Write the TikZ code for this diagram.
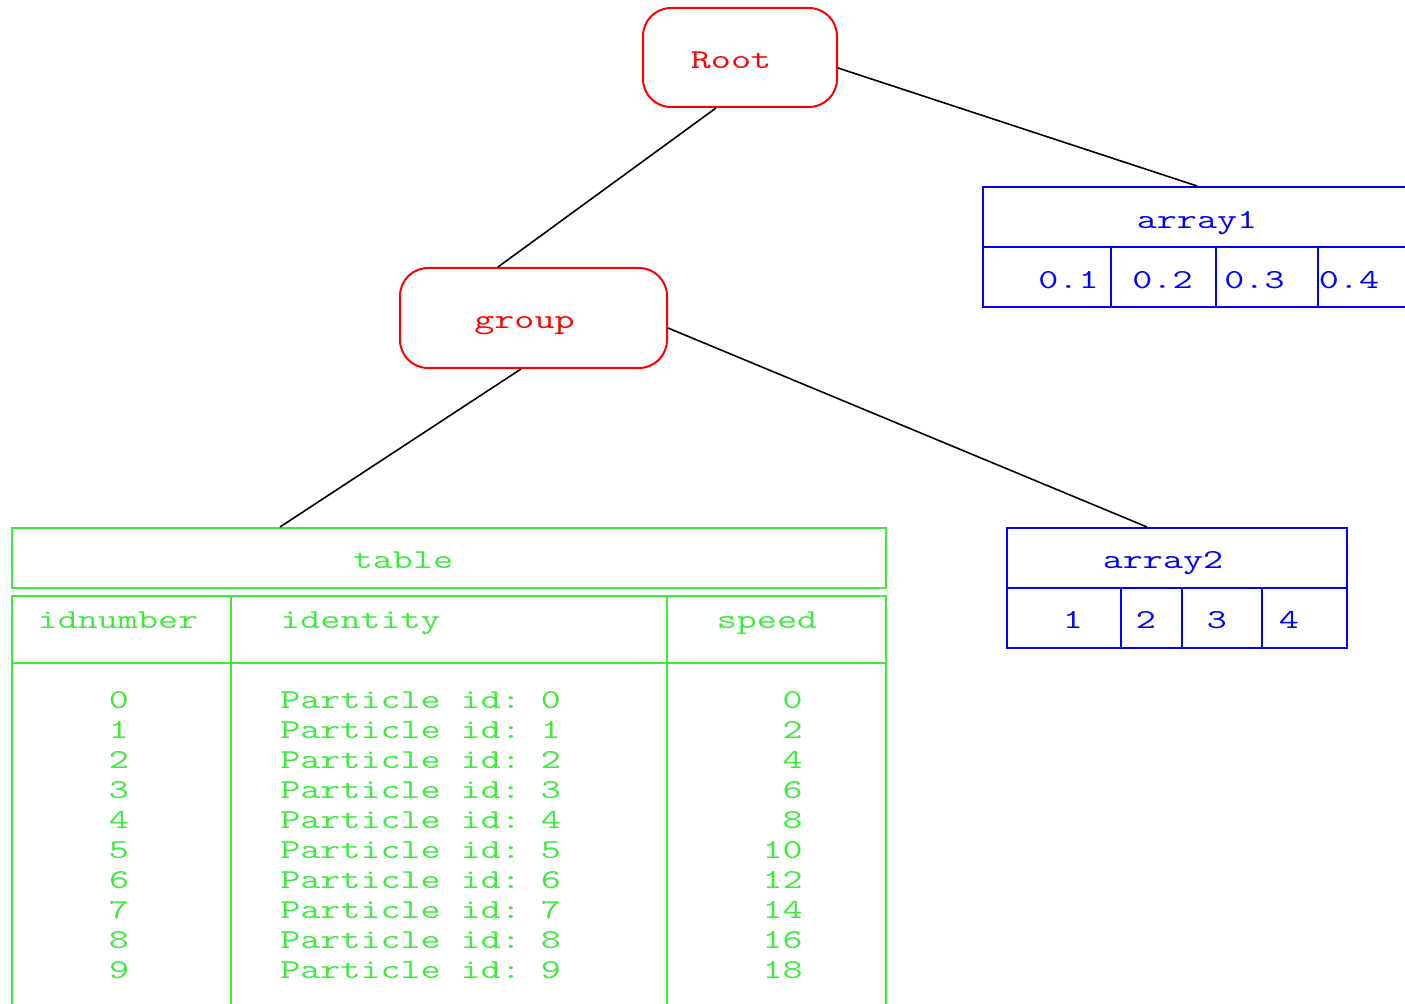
\documentclass[tikz,border=0pt]{standalone}
\usepackage{fontspec}
\setmonofont[FakeStretch=1.42]{Latin Modern Mono}
\definecolor{tabgreen}{RGB}{60,235,60}

\begin{document}
\begin{tikzpicture}[
  x=0.5pt, y=-0.5pt,
  box/.style={draw, line width=1pt, inner sep=0pt},
  grp/.style={box, red, rounded corners=14pt},
  arr/.style={box, blue, minimum height=30pt},
  tab/.style={box, tabgreen},
  lbl/.style={font=\ttfamily\fontsize{13.7}{15}\selectfont, inner sep=0pt, anchor=base},
  link/.style={line width=0.8pt}]
\useasboundingbox (0,0) rectangle (1405,1004);

% groups
\node[grp, minimum width=97pt, minimum height=49.5pt] (root) at (740,57.5) {};
\node[lbl, red] (rootname) at (731,69) {Root};
\node[grp, minimum width=133.5pt, minimum height=50pt] (group) at (533.5,318) {};
\node[lbl, red] (groupname) at (524.5,329) {group};

% array1
\node[arr, minimum width=214pt] (arrayone) at (1197,217) {};
\node[lbl, blue] (arrayonename) at (1197,229) {array1};
\foreach \xl/\xr/\xt/\val [count=\i] in {983/1111/1068.5/0.1, 1111/1216/1162.5/0.2, 1216/1318/1254.5/0.3, 1318/1411/1349/0.4}
  \node[arr, minimum width=0.5pt*(\xr-\xl)] (arrayone\i) at ({(\xl+\xr)/2},277) {}
    node[lbl, blue] (arrayoneval\i) at (\xt,289) {\val};

% array2
\node[arr, minimum width=170pt] (arraytwo) at (1177,558) {};
\node[lbl, blue] (arraytwoname) at (1163,569) {array2};
\foreach \xl/\xr/\xt/\val [count=\i] in {1007/1121/1073/1, 1121/1182/1146/2, 1182/1262/1217/3, 1262/1347/1289/4}
  \node[arr, minimum width=0.5pt*(\xr-\xl)] (arraytwo\i) at ({(\xl+\xr)/2},618) {}
    node[lbl, blue] (arraytwoval\i) at (\xt,629) {\val};

% table
\node[tab, minimum width=437pt, minimum height=30pt] (tabletitle) at (449,558) {};
\node[lbl, tabgreen] (tablename) at (403,569) {table};
\foreach \xl/\xr [count=\i] in {12/231, 231/667, 667/886} {
  \node[tab, minimum width=0.5pt*(\xr-\xl), minimum height=33.5pt] (head\i) at ({(\xl+\xr)/2},629.5) {};
  \node[tab, minimum width=0.5pt*(\xr-\xl), minimum height=173.5pt] (body\i) at ({(\xl+\xr)/2},836.5) {};
}
\node[lbl, tabgreen] (headname1) at (118,629) {idnumber};
\node[lbl, tabgreen, anchor=base west] (headname2) at (280,629) {identity};
\node[lbl, tabgreen] (headname3) at (767,629) {speed};
\foreach \k in {0,...,9} {
  \pgfmathtruncatemacro\spd{2*\k}
  \node[lbl, tabgreen] (idnum\k) at (119,709+30*\k) {\k};
  \node[lbl, tabgreen, anchor=base west] (ident\k) at (280,709+30*\k) {Particle id: \k};
  \node[lbl, tabgreen, anchor=base east] (speed\k) at (803,709+30*\k) {\spd};
}

% links
\draw[link] ([yshift=-5.25pt]root.east) -- (arrayone.north);
\draw[link] ([xshift=-12pt]root.south) -- ([xshift=-17.75pt]group.north);
\draw[link] ([xshift=-6.25pt]group.south) -- ([xshift=-84.5pt]tabletitle.north);
\draw[link] ([yshift=-5pt]group.east) -- ([xshift=-15pt]arraytwo.north);
\end{tikzpicture}
\end{document}
